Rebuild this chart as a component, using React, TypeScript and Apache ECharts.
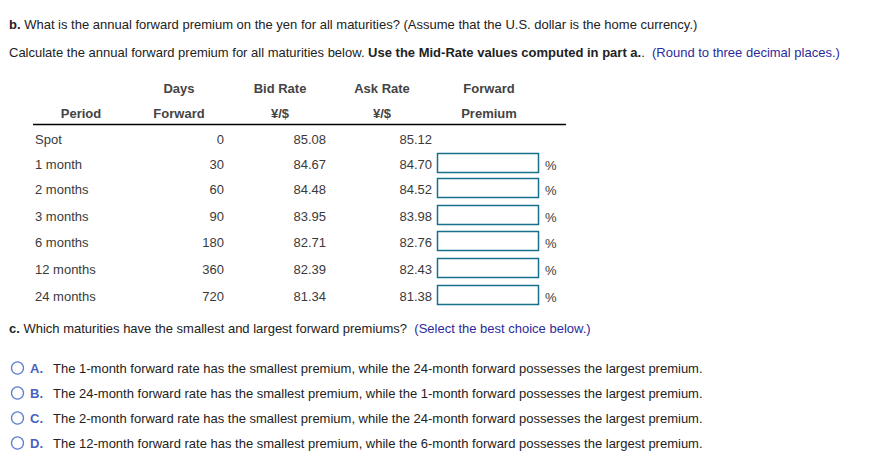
import React, { useEffect, useRef } from "react";
import * as echarts from "echarts";

const periods = ["Spot", "1 month", "2 months", "3 months", "6 months", "12 months", "24 months"];
const daysForward = [0, 30, 60, 90, 180, 360, 720];
const bidRates = ["85.08", "84.67", "84.48", "83.95", "82.71", "82.39", "81.34"];
const askRates = ["85.12", "84.70", "84.52", "83.98", "82.76", "82.43", "81.38"];
const headerTop = ["", "Days", "Bid Rate", "Ask Rate", "Forward"];
const headerBottom = ["Period", "Forward", "¥/$", "¥/$", "Premium"];
const choiceLetters = ["A.", "B.", "C.", "D."];
const choiceTexts = [
  "The 1-month forward rate has the smallest premium, while the 24-month forward possesses the largest premium.",
  "The 24-month forward rate has the smallest premium, while the 1-month forward possesses the largest premium.",
  "The 2-month forward rate has the smallest premium, while the 24-month forward possesses the largest premium.",
  "The 12-month forward rate has the smallest premium, while the 6-month forward possesses the largest premium.",
];

const FONT = "'Liberation Sans', Arial, sans-serif";
const TEXT = "#222222";
const TABLE = "#3a3a3a";
const BLUE = "#2e2a9c";
const LETTER = "#4a5fc4";
const BOX = "#19718d";

export default function App() {
  const ref = useRef<HTMLDivElement>(null);
  useEffect(() => {
    if (!ref.current) return;
    const chart = echarts.init(ref.current, null, { renderer: "svg" });
    const els: any[] = [];
    const txt = (x: number, y: number, text: string, opts: any = {}) => {
      els.push({
        type: "text",
        x,
        y,
        style: {
          text,
          fontFamily: FONT,
          fontSize: opts.size || 13,
          fill: opts.fill || TEXT,
          fontWeight: opts.bold ? "bold" : "normal",
          align: opts.align || "left",
          verticalAlign: "middle",
          rich: opts.rich,
        },
      });
    };
    const richSet = (size: number) => ({
      b: { fontWeight: "bold", fontFamily: FONT, fontSize: size, fill: TEXT },
      u: { fontFamily: FONT, fontSize: size, fill: BLUE },
    });

    // Part b question
    txt(9, 24, "{b|b.} What is the annual forward premium on the yen for all maturities? (Assume that the U.S. dollar is the home currency.)", {
      rich: richSet(13),
    });
    txt(9, 52, "Calculate the annual forward premium for all maturities below. {b|Use the Mid-Rate values computed in part a.}.  {u|(Round to three decimal places.)}", {
      rich: richSet(13),
    });

    // Table header
    const headerX = [81, 179, 280, 382, 489];
    headerTop.forEach((h, i) => {
      if (h) txt(headerX[i], 88, h, { bold: true, align: "center", fill: "#444444" });
    });
    headerBottom.forEach((h, i) => {
      txt(headerX[i], 113, h, { bold: true, align: "center", fill: "#444444" });
    });
    els.push({
      type: "line",
      shape: { x1: 33, y1: 124.5, x2: 566, y2: 124.5 },
      style: { stroke: "#000000", lineWidth: 1.5 },
    });

    const rowY = [139, 164, 189, 216, 242, 269, 296];
    periods.forEach((p, i) => {
      const y = rowY[i];
      txt(35, y, p, { fill: TABLE });
      txt(224, y, String(daysForward[i]), { fill: TABLE, align: "right" });
      txt(326, y, bidRates[i], { fill: TABLE, align: "right" });
      txt(432, y, askRates[i], { fill: TABLE, align: "right" });
      if (i > 0) {
        els.push({
          type: "rect",
          shape: { x: 437.5, y: y - 10.5, width: 101, height: 19 },
          style: { fill: "#ffffff", stroke: BOX, lineWidth: 1.5 },
        });
        txt(545, y + 1, "%", { fill: TABLE });
      }
    });

    // Part c
    txt(9, 328, "{b|c.} Which maturities have the smallest and largest forward premiums?  {u|(Select the best choice below.)}", {
      rich: richSet(13),
    });
    const choiceY = [368, 393, 418, 443];
    choiceLetters.forEach((l, i) => {
      const y = choiceY[i];
      els.push({
        type: "circle",
        shape: { cx: 17.5, cy: y, r: 6 },
        style: { fill: "#ffffff", stroke: "#5c7fd0", lineWidth: 1.3 },
      });
      txt(30, y, l, { bold: true, fill: LETTER });
      txt(53, y, choiceTexts[i], { fill: TEXT });
    });

    chart.setOption({
      animation: false,
      backgroundColor: "#ffffff",
      graphic: { elements: els },
    });
    return () => chart.dispose();
  }, []);
  return (
    <div
      ref={ref}
      style={{ position: "absolute", left: 0, top: 0, width: 891, height: 457, background: "#fff" }}
    />
  );
}
